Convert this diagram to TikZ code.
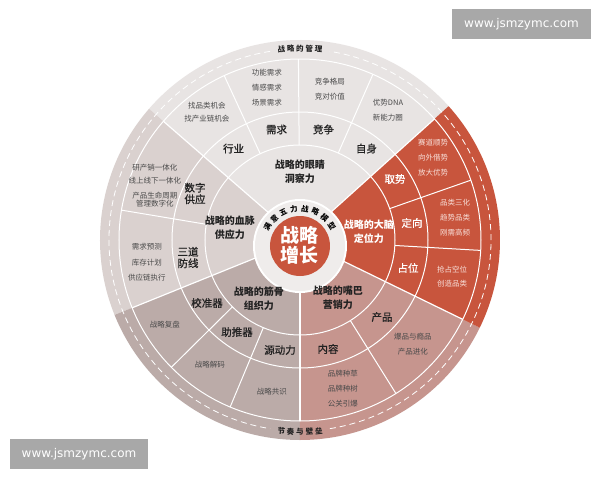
\documentclass[tikz,border=0pt]{standalone}
\usepackage{fontspec}
\setmainfont{Noto Sans CJK SC}
\newfontfamily\medfont{Noto Sans CJK SC}[FakeBold=0.8]
\newfontfamily\wmfont{DejaVu Sans}
\usetikzlibrary{calc}
\definecolor{cTop}{HTML}{E8E4E3}
\definecolor{cLeft}{HTML}{DAD1CF}
\definecolor{cBL}{HTML}{BBABA8}
\definecolor{cBR}{HTML}{C6958E}
\definecolor{cRed}{HTML}{C8553D}
\definecolor{cRing}{HTML}{EFECEB}
\definecolor{cWM}{HTML}{A8A8A8}
\definecolor{cTxt}{HTML}{222222}
\definecolor{cDet}{HTML}{4A4A4A}
\definecolor{cRedDet}{HTML}{F8E0DA}
\begin{document}
\begin{tikzpicture}[x=1pt,y=1pt,
  title/.style={font=\bfseries\fontsize{10}{14}\selectfont, text=cTxt, align=center, inner sep=0pt},
  mid/.style={font=\medfont\fontsize{10.5}{12}\selectfont, text=cTxt, align=center, inner sep=0pt},
  det/.style={font=\fontsize{7.5}{15}\selectfont, text=cDet, align=center, inner sep=0pt},
  wl/.style={draw=white, line width=1pt},
  rim/.style={font=\bfseries\fontsize{7.5}{8}\selectfont, text=cTxt, inner sep=0pt},
  arcch/.style={font=\bfseries\fontsize{7.5}{8}\selectfont, text=black, inner sep=0pt},
  wm/.style={fill=cWM, text=white, font=\wmfont\fontsize{12}{12}\selectfont, minimum height=30pt, inner sep=0pt}
]
\useasboundingbox (-300,-240) rectangle (300,240);
\fill[white] (-300,-240) rectangle (300,240);
% sectors
\fill[cTop]  (0,0) -- (42:200pt) arc[start angle=42, end angle=139, radius=200pt] -- cycle;
\fill[cLeft] (0,0) -- (139:200pt) arc[start angle=139, end angle=202, radius=200pt] -- cycle;
\fill[cBL]   (0,0) -- (202:200pt) arc[start angle=202, end angle=270, radius=200pt] -- cycle;
\fill[cBR]   (0,0) -- (270:200pt) arc[start angle=270, end angle=334, radius=200pt] -- cycle;
\fill[cRed]  (0,0) -- (-26:200pt) arc[start angle=-26, end angle=42, radius=200pt] -- cycle;
% rings
\draw[wl] (0,0) circle (95pt);
\draw[wl] (0,0) circle (128pt);
\draw[wl] (0,0) circle (181pt);
\draw[draw=white, line width=0.8pt, dash pattern=on 6pt off 4pt] (99:191pt) arc[start angle=99, end angle=261, radius=191pt];
\draw[draw=white, line width=0.8pt, dash pattern=on 6pt off 4pt] (279:191pt) arc[start angle=279, end angle=441, radius=191pt];
% sector boundaries
\foreach \a in {42,139,202,270,334} \draw[wl, line width=1.2pt] (\a:40pt) -- (\a:181pt);
% subdividers
\foreach \a in {66.25,90.5,114.75,19.3,-3.3,-58,-112.7,-135.3,170.5} \draw[wl] (\a:95pt) -- (\a:181pt);
% center
\fill[white] (0,-6) circle (47pt);
\fill[cRing] (0,-6) circle (45pt);
\fill[cRed] (0,-6) circle (30pt);
\node[font=\bfseries\fontsize{19}{20}\selectfont, text=white, align=center, inner sep=0pt] (core) at (0,-5) {战略\\增长};
\foreach \c [count=\i from 0] in {满,意,五,力,战,略,模,型}
  \node[arcch, rotate={60-\i*16.86}] (arc\i) at ($(0,-6)+({150-\i*16.86}:37.5pt)$) {\c};
% rim labels
\foreach \c [count=\i from 0] in {战,略,的,管,理}
  \node[rim, rotate={5.6-\i*2.8}] (top\i) at ({95.6-\i*2.8}:191.5pt) {\c};
\foreach \c [count=\i from 0] in {节,奏,与,壁,垒}
  \node[rim, rotate={-5.6+\i*2.8}] (bot\i) at ({264.4+\i*2.8}:192pt) {\c};
% titles
\node[title] (tEye) at (0,68.5) {战略的眼睛\\洞察力};
\node[title, text=white] (tBrain) at (69,8.5) {战略的大脑\\定位力};
\node[title] (tBlood) at (-70,12) {战略的血脉\\供应力};
\node[title] (tBone) at (-41,-58.5) {战略的筋骨\\组织力};
\node[title] (tMouth) at (38,-57.5) {战略的嘴巴\\营销力};
% top sector
\node[mid] (m1) at (126:113pt) {行业};
\node[mid] (m2) at (102:113pt) {需求};
\node[mid] (m3) at (78:113pt) {竞争};
\node[mid] (m4) at (54:113pt) {自身};
\node[det, font=\fontsize{7.5}{13}\selectfont] (d1) at (-93,127.5) {找品类机会\\找产业链机会};
\node[det] (d2) at (-33,152) {功能需求\\情感需求\\场景需求};
\node[det] (d3) at (30,150.5) {竞争格局\\竞对价值};
\node[det] (d4) at (88,129.5) {优势DNA\\新能力圈};
% red sector
\node[mid, text=white] (m5) at (95,61) {取势};
\node[mid, text=white] (m6) at (112,17) {定向};
\node[mid, text=white] (m7) at (108,-28) {占位};
\node[det, text=cRedDet] (d5) at (133,82) {赛道顺势\\向外借势\\放大优势};
\node[det, text=cRedDet] (d6) at (155,22) {品类三化\\趋势品类\\刚需高频};
\node[det, text=cRedDet, font=\fontsize{7.5}{14}\selectfont] (d7) at (152,-37) {抢占空位\\创造品类};
% left sector
\node[mid, font=\medfont\fontsize{10.5}{11.5}\selectfont] (m8) at (-105,46.5) {数字\\供应};
\node[mid, font=\medfont\fontsize{10.5}{11.5}\selectfont] (m9) at (-112,-17.5) {三道\\防线};
\node[det] (d8a) at (-145,72) {研产销一体化};
\node[det] (d8b) at (-145,59) {线上线下一体化};
\node[det, font=\fontsize{7.5}{7.5}\selectfont] (d8c) at (-145,40.5) {产品生命周期\\管理数字化};
\node[det, font=\fontsize{7.5}{15.5}\selectfont] (d9) at (-153,-22.5) {需求预测\\库存计划\\供应链执行};
% bottom-left sector
\node[mid] (m10) at (-93,-63) {校准器};
\node[mid] (m11) at (-63,-92) {助推器};
\node[mid] (m12) at (-20,-110) {源动力};
\node[det] (d10) at (-135,-85) {战略复盘};
\node[det] (d11) at (-90,-125) {战略解码};
\node[det] (d12) at (-28,-152) {战略共识};
% bottom-right sector
\node[mid] (m13) at (82,-77) {产品};
\node[mid] (m14) at (28,-109) {内容};
\node[det] (d13) at (113,-104.5) {爆品与瘾品\\产品进化};
\node[det] (d14) at (43,-149) {品牌种草\\品牌种树\\公关引爆};
% watermarks
\node[wm, minimum width=139pt] (wm1) at (221.5,216) {www.jsmzymc.com};
\node[wm, minimum width=138pt] (wm2) at (-221,-214) {www.jsmzymc.com};
\end{tikzpicture}
\end{document}
